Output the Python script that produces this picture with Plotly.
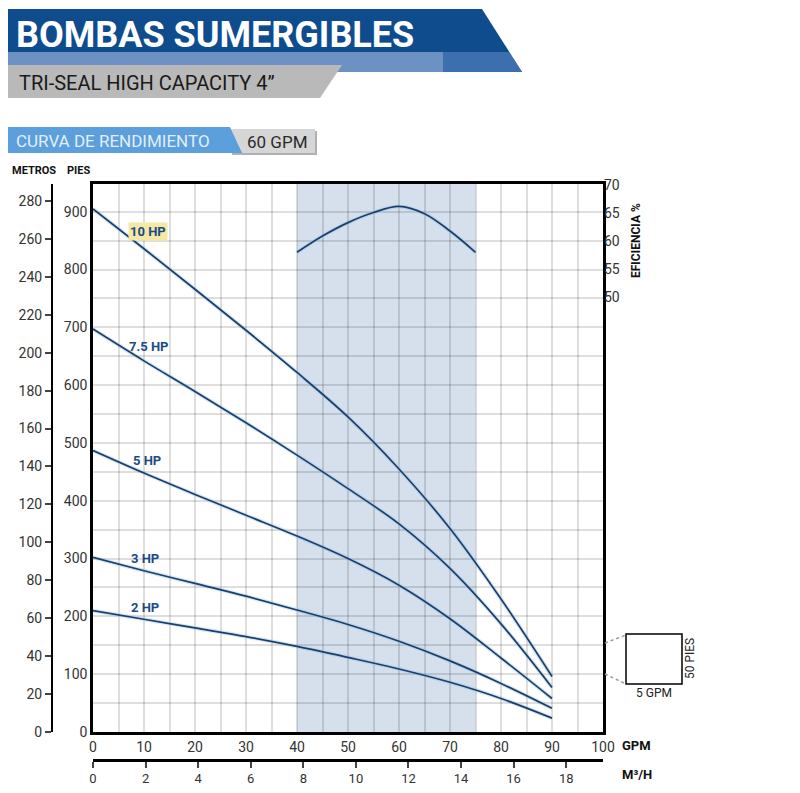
import plotly.graph_objects as go

# caudal en GPM (eje comun de todas las curvas)
gpm = [0, 10, 20, 30, 40, 50, 60, 70, 80, 90]

# altura en pies para cada potencia
hp_10 = [905, 836, 766, 695, 622, 545, 455, 352, 230, 96]
hp_75 = [697, 642, 589, 535, 479, 421, 360, 283, 187, 77]
hp_5 = [487, 448, 411, 375, 339, 300, 254, 196, 128, 58]
hp_3 = [302, 279, 257, 235, 211, 186, 157, 123, 84, 41]
hp_2 = [210, 195, 180, 165, 148, 129, 109, 86, 58, 24]

curve_names = ["10 HP", "7.5 HP", "5 HP", "3 HP", "2 HP"]

# curva de eficiencia (zona sombreada 40-75 GPM)
eff_gpm = [40, 45, 50, 55, 60, 65, 70, 75]
eff_pct = [58, 60.9, 63.3, 65.1, 66.2, 64.9, 61.8, 58]

# la pagina tiene 8px de margen en el body, la figura se hace mas chica y se compensa
OFF = 8
W, H = 800 - 2 * OFF, 793 - 2 * OFF
FONT = "Roboto, Liberation Sans, sans-serif"
NAVY = "#1f3e66"


def P(x, y):
    # pixel de la pagina -> paper
    return (x - OFF) / W, 1 - (y - OFF) / H


def path(pts):
    s = ""
    for i, (x, y) in enumerate(pts):
        px, py = P(x, y)
        s += ("M" if i == 0 else "L") + f"{px:.5f},{py:.5f} "
    return s + "Z"


fig = go.Figure()

for name, vals in zip(curve_names, [hp_10, hp_75, hp_5, hp_3, hp_2]):
    # halo claro debajo de la linea
    fig.add_trace(go.Scatter(x=gpm, y=vals, mode="lines", hoverinfo="skip",
                             line=dict(color="rgba(140,195,240,0.4)", width=4, shape="spline"),
                             showlegend=False))
    fig.add_trace(go.Scatter(x=gpm, y=vals, mode="lines", name=name,
                             line=dict(color=NAVY, width=1.7, shape="spline"),
                             showlegend=False))

fig.add_trace(go.Scatter(x=eff_gpm, y=eff_pct, mode="lines", yaxis="y3", hoverinfo="skip",
                         line=dict(color="rgba(140,195,240,0.4)", width=4, shape="spline"),
                         showlegend=False))
fig.add_trace(go.Scatter(x=eff_gpm, y=eff_pct, mode="lines", yaxis="y3", name="Eficiencia",
                         line=dict(color=NAVY, width=1.7, shape="spline"),
                         showlegend=False))

# trazas invisibles para mostrar los ejes de M3/H y metros
fig.add_trace(go.Scatter(x=[0], y=[0], xaxis="x2", mode="markers",
                         marker=dict(opacity=0), showlegend=False, hoverinfo="skip"))
fig.add_trace(go.Scatter(x=[0], y=[0], yaxis="y2", mode="markers",
                         marker=dict(opacity=0), showlegend=False, hoverinfo="skip"))

xdom = [P(93, 0)[0], P(603, 0)[0]]
ydom = [P(0, 732)[1], P(0, 184)[1]]
ft_max = 948
grid = "rgba(0,0,0,0.13)"
tickf = dict(family=FONT, size=14, color="#333")

fig.update_layout(
    width=W, height=H, autosize=False,
    margin=dict(l=0, r=0, t=0, b=0),
    paper_bgcolor="white", plot_bgcolor="white",
    xaxis=dict(domain=xdom, range=[0, 100], dtick=10, tickfont=tickf, automargin=False,
               showgrid=True, gridcolor=grid, gridwidth=1.8,
               minor=dict(dtick=5, showgrid=True, gridcolor=grid, gridwidth=1.8),
               showline=True, linecolor="black", linewidth=2.5, mirror=True,
               zeroline=False, ticks=""),
    yaxis=dict(domain=ydom, range=[0, ft_max], dtick=100, tickfont=tickf, automargin=False,
               showgrid=True, gridcolor=grid, gridwidth=1.8,
               minor=dict(dtick=50, showgrid=True, gridcolor=grid, gridwidth=1.8),
               showline=True, linecolor="black", linewidth=2.5, mirror=True,
               zeroline=False, ticks=""),
    yaxis2=dict(overlaying="y", anchor="free", position=P(52, 0)[0], side="left", automargin=False,
                range=[0, ft_max / 3.2808], dtick=20, tickfont=tickf,
                showgrid=False, zeroline=False, showline=True, linecolor="black",
                linewidth=2, ticks="outside", ticklen=6, tickwidth=1.5),
    yaxis3=dict(overlaying="y", anchor="x", side="right", range=[-27.7, 70.2], automargin=False,
                tickvals=[50, 55, 60, 65, 70], tickfont=tickf,
                showgrid=False, zeroline=False, showline=False, ticks=""),
    xaxis2=dict(overlaying="x", anchor="free", position=P(0, 760)[1], side="bottom",
                range=[0, 19.4], dtick=2, tickfont=dict(family=FONT, size=13, color="#333"),
                showgrid=False, automargin=False,
                zeroline=False, showline=True, linecolor="black", linewidth=2.5,
                ticks="outside", ticklen=6, tickwidth=2),
)

shapes = [
    # zona de eficiencia
    dict(type="rect", xref="x", yref="y domain", x0=40, x1=75, y0=0, y1=1,
         fillcolor="#d5e0ec", line_width=0, layer="below"),
    # cabecera
    dict(type="path", xref="paper", yref="paper", path=path([(OFF, 9), (482, 9), (522, 72), (OFF, 72)]),
         fillcolor="#0e4c8e", line_width=0),
    dict(type="path", xref="paper", yref="paper", path=path([(OFF, 52), (443, 52), (443, 72), (OFF, 72)]),
         fillcolor="#6b92c3", line_width=0),
    dict(type="path", xref="paper", yref="paper", path=path([(443, 52), (509, 52), (522, 72), (443, 72)]),
         fillcolor="#3b6fae", line_width=0),
    dict(type="path", xref="paper", yref="paper", path=path([(OFF, 65), (342, 65), (320, 98), (OFF, 98)]),
         fillcolor="#b9b9b9", line_width=0),
    # curva de rendimiento
    dict(type="path", xref="paper", yref="paper", path=path([(232, 131), (317, 131), (317, 155), (232, 155)]),
         fillcolor="#b0b0b0", line_width=0),
    dict(type="path", xref="paper", yref="paper", path=path([(230, 129), (315, 129), (315, 153), (242, 153)]),
         fillcolor="#d6d6d6", line_width=0),
    dict(type="path", xref="paper", yref="paper", path=path([(OFF, 127), (230, 127), (242, 153), (OFF, 153)]),
         fillcolor="#5b9fdc", line_width=0),
    # recuadro de escala
    dict(type="rect", xref="paper", yref="paper", x0=P(626, 0)[0], x1=P(682, 0)[0],
         y0=P(0, 684)[1], y1=P(0, 634)[1], line=dict(color="black", width=1.5)),
    dict(type="line", xref="paper", yref="paper", x0=P(605, 0)[0], y0=P(0, 643)[1],
         x1=P(626, 0)[0], y1=P(0, 635)[1], line=dict(color="#999", width=1.5, dash="dot")),
    dict(type="line", xref="paper", yref="paper", x0=P(605, 0)[0], y0=P(0, 674)[1],
         x1=P(626, 0)[0], y1=P(0, 684)[1], line=dict(color="#999", width=1.5, dash="dot")),
]
fig.update_layout(shapes=shapes)


def note(x, y, text, size=13, color="#111", bold=True, angle=0, xanchor="center", **kw):
    px, py = P(x, y)
    fig.add_annotation(x=px, y=py, xref="paper", yref="paper", text=f"<b>{text}</b>" if bold else text,
                       showarrow=False, textangle=angle, xanchor=xanchor, yanchor="middle",
                       font=dict(family=FONT, size=size, color=color), **kw)


note(14, 35, "BOMBAS SUMERGIBLES", size=36, color="white", xanchor="left")
note(17, 83, "TRI-SEAL HIGH CAPACITY 4”", size=20, color="#1a1a1a", bold=False, xanchor="left")
note(14, 141, "CURVA DE RENDIMIENTO", size=17, color="#e4eef9", bold=False, xanchor="left")
note(245, 142, "60 GPM", size=17, color="#2a2a2a", bold=False, xanchor="left")
note(10, 170, "METROS", size=11, xanchor="left")
note(78, 170, "PIES", size=11)
note(636, 241, "EFICIENCIA %", size=12, angle=-90)
note(636, 745, "GPM", size=13)
note(637, 774, "M³/H", size=13)
note(690, 659, "50 PIES", size=12, bold=False, angle=-90, color="#222")
note(654, 693, "5 GPM", size=12, bold=False, color="#222")

label_pos = {"10 HP": (148, 231), "7.5 HP": (148, 346), "5 HP": (147, 461), "3 HP": (145, 558), "2 HP": (145, 607)}
for name in curve_names:
    x, y = label_pos[name]
    if name == "10 HP":
        note(x, y, name, size=13, color="#1b4b86", bgcolor="#f4e8a2", borderpad=1)
    else:
        note(x, y, name, size=13, color="#1b4b86")

fig.write_html("out.html")
